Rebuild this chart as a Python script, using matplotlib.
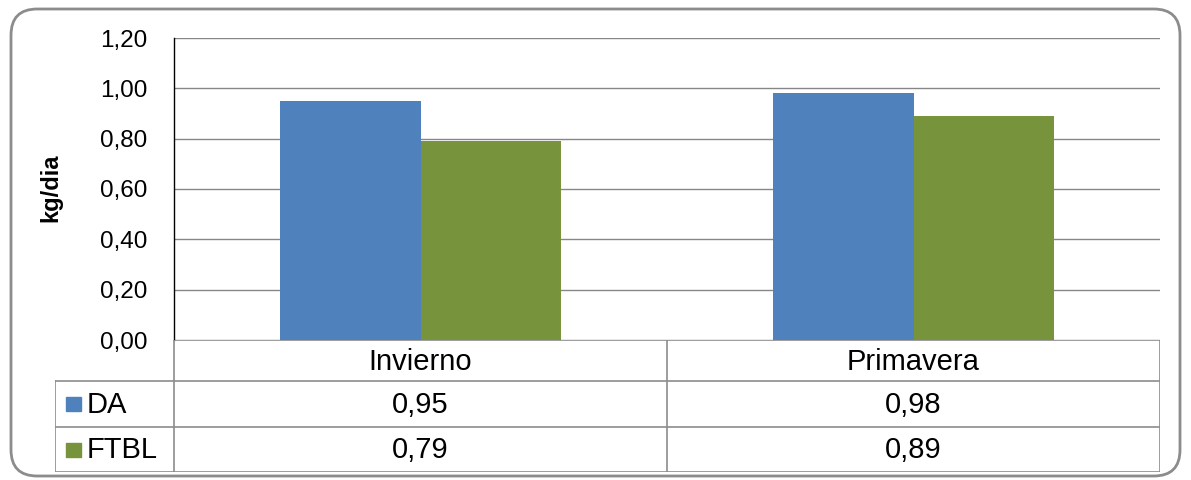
import matplotlib
matplotlib.use("Agg")
import matplotlib.pyplot as plt
from matplotlib.patches import FancyBboxPatch, Rectangle
from matplotlib.ticker import FuncFormatter

plt.rcParams['font.family'] = ['Liberation Sans', 'DejaVu Sans']

categories = ["Invierno", "Primavera"]
series_names = ["DA", "FTBL"]
da_values = [0.95, 0.98]
ftbl_values = [0.79, 0.89]
series_values = [da_values, ftbl_values]
series_colors = ["#4F81BD", "#77933C"]
y_ticks = [0.0, 0.2, 0.4, 0.6, 0.8, 1.0, 1.2]
y_label = "kg/dia"

W, H = 1191, 480
fig = plt.figure(figsize=(W / 100, H / 100), dpi=100)

def fx(x):
    return x / W

def fy(y):
    return 1 - y / H

# outer rounded border
border = FancyBboxPatch((fx(11), fy(476)), fx(1180) - fx(11), fy(9) - fy(476),
                        boxstyle="round,pad=0,rounding_size=0.022",
                        transform=fig.transFigure, fill=False,
                        edgecolor="#8c8c8c", linewidth=2, mutation_aspect=W / H)
fig.patches.append(border)

# main plot axes
L, R, T, B = 174, 1160, 38, 340
ax = fig.add_axes([fx(L), fy(B), fx(R) - fx(L), fy(T) - fy(B)])
n = len(categories)
bw = 0.286
for k, (vals, col) in enumerate(zip(series_values, series_colors)):
    offs = (k - (len(series_values) - 1) / 2) * bw
    ax.bar([i + offs for i in range(n)], vals, width=bw, color=col, zorder=3)
ax.set_xlim(-0.5, n - 0.5)
ax.set_ylim(0, 1.2)
ax.set_yticks(y_ticks)
ax.yaxis.set_major_formatter(FuncFormatter(lambda v, p: f"{v:.2f}".replace('.', ',')))
ax.tick_params(axis='y', length=0, pad=19, labelsize=17.5, labelcolor="#000000")
ax.set_xticks([])
ax.grid(axis='y', color="#868686", linewidth=1, zorder=0)
for s in ['top', 'right', 'bottom']:
    ax.spines[s].set_visible(False)
ax.spines['left'].set_color("#000000")
ax.spines['left'].set_linewidth(1)
ax.set_ylabel(y_label, fontsize=17, fontweight='bold')
ax.yaxis.set_label_coords((62 - L) / (R - L), 0.505)

# data table
TL, TB = 55, 472
row_edges = [340, 381, 427, 472]
tax = fig.add_axes([fx(TL), fy(TB), fx(R) - fx(TL), fy(340) - fy(TB)])
tax.set_xlim(TL, R)
tax.set_ylim(TB, 340)
tax.axis('off')
lc = "#8c8c8c"
colw = (R - L) / n
# horizontal lines
tax.plot([L, R], [row_edges[0]] * 2, color=lc, lw=1.2)
for ye in row_edges[1:]:
    tax.plot([TL, R], [ye] * 2, color=lc, lw=1.2)
# vertical lines
tax.plot([TL, TL], [row_edges[1], row_edges[3]], color=lc, lw=1.2)
for i in range(n + 1):
    tax.plot([L + i * colw] * 2, [row_edges[0], row_edges[3]], color=lc, lw=1.2)

for i, c in enumerate(categories):
    tax.text(L + (i + 0.5) * colw, (row_edges[0] + row_edges[1]) / 2 + 1, c,
             ha='center', va='center', fontsize=21)
for k, (name, vals, col) in enumerate(zip(series_names, series_values, series_colors)):
    yc = (row_edges[k + 1] + row_edges[k + 2]) / 2
    tax.add_patch(Rectangle((66, yc - 7), 15, 14, color=col))
    tax.text(87, yc + 1, name, ha='left', va='center', fontsize=21)
    for i, v in enumerate(vals):
        tax.text(L + (i + 0.5) * colw, yc + 1, f"{v:.2f}".replace('.', ','),
                 ha='center', va='center', fontsize=21)

fig.savefig("out.png", dpi=100)
